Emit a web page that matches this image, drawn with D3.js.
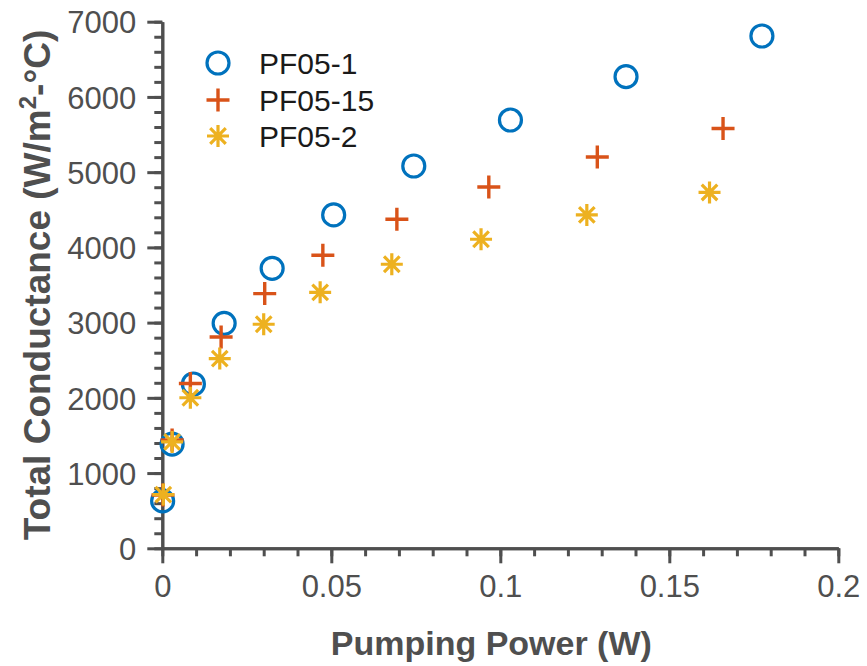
<!DOCTYPE html>
<html>
<head>
<meta charset="utf-8">
<script src="https://cdn.jsdelivr.net/npm/d3@7"></script>
<style>
  html, body { margin: 0; padding: 0; background: #fff; }
  svg { display: block; }
  text { font-family: "Liberation Sans", Arial, sans-serif; }
</style>
</head>
<body>
<svg id="chart" width="867" height="666"></svg>
<script>
// ---- data ----
const seriesNames = ["PF05-1", "PF05-15", "PF05-2"];
const pf05_1_x = [0.0001, 0.0029, 0.0092, 0.0183, 0.0325, 0.0507, 0.0744, 0.1030, 0.1372, 0.1774];
const pf05_1_y = [630, 1386, 2184, 2990, 3722, 4431, 5082, 5693, 6269, 6810];
const pf05_15_x = [0.0002, 0.0029, 0.0083, 0.0174, 0.0303, 0.0475, 0.0694, 0.0966, 0.1287, 0.1659];
const pf05_15_y = [708, 1439, 2190, 2809, 3386, 3896, 4374, 4803, 5202, 5580];
const pf05_2_x = [0.0003, 0.0029, 0.0083, 0.0170, 0.0300, 0.0467, 0.0679, 0.0943, 0.1256, 0.1619];
const pf05_2_y = [714, 1414, 2001, 2522, 2978, 3403, 3776, 4108, 4431, 4730];
const xTicks = [0, 0.05, 0.1, 0.15, 0.2];
const xTickLabels = ["0", "0.05", "0.1", "0.15", "0.2"];
const yTicks = [0, 1000, 2000, 3000, 4000, 5000, 6000, 7000];
const yTickLabels = ["0", "1000", "2000", "3000", "4000", "5000", "6000", "7000"];
const xMinor = d3.range(0, 0.2001, 0.01);
const yMinor = d3.range(0, 7001, 200);

// ---- layout ----
const svg = d3.select("#chart");
const L = 162.3, R = 838.3, T = 21.7, B = 548.3;
const x = d3.scaleLinear().domain([0, 0.2]).range([L, R]);
const y = d3.scaleLinear().domain([0, 7000]).range([B, T]);
const axisColor = "#4f4f4f";
const colors = ["#0072BD", "#D95319", "#EDB120"];

// minor ticks
const xMinorAxis = d3.axisBottom(x).tickValues(xMinor).tickSize(8).tickSizeOuter(0).tickFormat("");
const yMinorAxis = d3.axisLeft(y).tickValues(yMinor).tickSize(8).tickSizeOuter(0).tickFormat("");
const gxm = svg.append("g").attr("transform", `translate(0,${B})`).call(xMinorAxis);
const gym = svg.append("g").attr("transform", `translate(${L},0)`).call(yMinorAxis);

// major axes
const xAxis = d3.axisBottom(x).tickValues(xTicks).tickSize(15).tickSizeOuter(0)
  .tickFormat((d, i) => xTickLabels[i]).tickPadding(12);
const yAxis = d3.axisLeft(y).tickValues(yTicks).tickSize(15).tickSizeOuter(0)
  .tickFormat((d, i) => yTickLabels[i]).tickPadding(11);
const gx = svg.append("g").attr("transform", `translate(0,${B})`).call(xAxis);
const gy = svg.append("g").attr("transform", `translate(${L},0)`).call(yAxis);

[gxm, gym, gx, gy].forEach(g => {
  g.selectAll("path.domain").attr("stroke", axisColor).attr("stroke-width", 3);
  g.selectAll(".tick line").attr("stroke", axisColor).attr("stroke-width", 3);
});
gx.selectAll(".tick text").attr("font-size", 31).attr("fill", axisColor)
  .attr("font-family", "Liberation Sans, Arial, sans-serif").attr("dy", "0.71em");
gy.selectAll(".tick text").attr("font-size", 31).attr("fill", axisColor)
  .attr("font-family", "Liberation Sans, Arial, sans-serif").attr("dy", "0.36em");

// axis titles
svg.append("text")
  .attr("x", (L + R) / 2 - 9).attr("y", 655)
  .attr("text-anchor", "middle")
  .attr("font-size", 34).attr("font-weight", "bold").attr("fill", axisColor)
  .text("Pumping Power (W)");

const yt = svg.append("text")
  .attr("transform", `translate(50,${(30 + 540) / 2}) rotate(-90)`)
  .attr("text-anchor", "middle")
  .attr("font-size", 37).attr("font-weight", "bold").attr("fill", axisColor);
yt.append("tspan").text("Total Conductance (W/m");
yt.append("tspan").attr("font-size", 24).attr("dy", -14).text("2");
yt.append("tspan").attr("dy", 14).text("-°C)");

// markers
function drawCircle(g, cx, cy, c) {
  g.append("circle").attr("cx", cx).attr("cy", cy).attr("r", 11)
    .attr("fill", "none").attr("stroke", c).attr("stroke-width", 3.2);
}
function drawPlus(g, cx, cy, c) {
  const s = 11.5;
  g.append("path").attr("d", `M${cx - s},${cy}H${cx + s}M${cx},${cy - s}V${cy + s}`)
    .attr("stroke", c).attr("stroke-width", 3.4).attr("fill", "none");
}
function drawStar(g, cx, cy, c) {
  const s = 11, d = s * 0.7071;
  g.append("path").attr("d",
    `M${cx - s},${cy}H${cx + s}M${cx},${cy - s}V${cy + s}` +
    `M${cx - d},${cy - d}L${cx + d},${cy + d}M${cx - d},${cy + d}L${cx + d},${cy - d}`)
    .attr("stroke", c).attr("stroke-width", 3.2).attr("fill", "none");
}
const drawers = [drawCircle, drawPlus, drawStar];
const series = [
  { xs: pf05_1_x, ys: pf05_1_y },
  { xs: pf05_15_x, ys: pf05_15_y },
  { xs: pf05_2_x, ys: pf05_2_y }
];
const marks = svg.append("g");
series.forEach((s, si) => {
  const g = marks.append("g");
  s.xs.forEach((xv, i) => drawers[si](g, x(xv), y(s.ys[i]), colors[si]));
});

// legend
const legend = svg.append("g");
const legY = [63, 100, 136];
seriesNames.forEach((name, i) => {
  drawers[i](legend, 218, legY[i], colors[i]);
  legend.append("text").attr("x", 259).attr("y", legY[i] + 10.5)
    .attr("font-size", 30).attr("fill", "#1a1a1a").text(name);
});
</script>
</body>
</html>
